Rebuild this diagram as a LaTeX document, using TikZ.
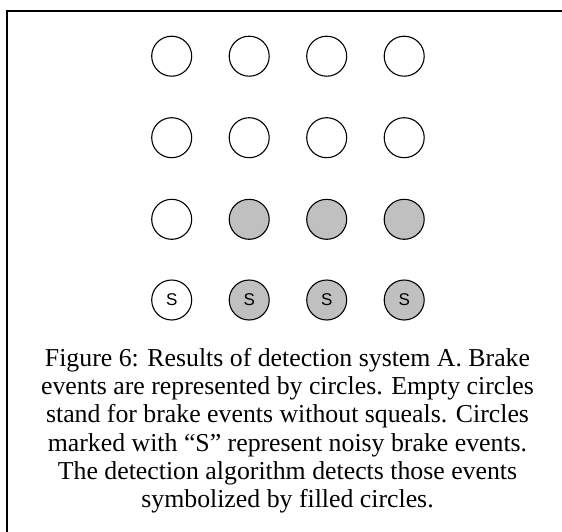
\documentclass[tikz,border=0pt]{standalone}
\usepackage{fontspec}
\setmainfont{Liberation Serif}
\newfontfamily\arialf{Liberation Sans}
\definecolor{silverc}{HTML}{C0C0C0}
\begin{document}
\begin{tikzpicture}[x=1pt,y=-1pt,
  ev/.style={circle, draw=black, line width=1.1pt, minimum size=40pt, inner sep=0pt,
    font=\arialf\fontsize{17}{17}\selectfont},
  det/.style={ev, fill=silverc},
  frame/.style={draw=black, line width=2pt},
  caption/.style={align=center, inner sep=0pt, font=\fontsize{25.8}{28.3}\selectfont}]
\useasboundingbox (0,0) rectangle (562,531);
\clip (0,0) rectangle (562,531);
\draw[frame] (7,10.5) rectangle (600,600);
% row 1
\node[ev] (a1) at (171.7,56.2) {};
\node[ev] (a2) at (249.2,56.2) {};
\node[ev] (a3) at (326.7,56.2) {};
\node[ev] (a4) at (404.2,56.2) {};
% row 2
\node[ev] (b1) at (171.7,137.7) {};
\node[ev] (b2) at (249.2,137.7) {};
\node[ev] (b3) at (326.7,137.7) {};
\node[ev] (b4) at (404.2,137.7) {};
% row 3
\node[ev] (c1) at (171.7,219.3) {};
\node[det] (c2) at (249.2,219.3) {};
\node[det] (c3) at (326.7,219.3) {};
\node[det] (c4) at (404.2,219.3) {};
% row 4
\node[ev] (d1) at (171.7,300) {S};
\node[det] (d2) at (249.2,300) {S};
\node[det] (d3) at (326.7,300) {S};
\node[det] (d4) at (404.2,300) {S};
\node[caption] (cap) at (287.5,430.8) {Figure 6: Results of detection system A. Brake\\
events are represented by circles. Empty circles\\
stand for brake events without squeals. Circles\\
marked with “S” represent noisy brake events.\\
The detection algorithm detects those events\\
symbolized by filled circles.};
\end{tikzpicture}
\end{document}
